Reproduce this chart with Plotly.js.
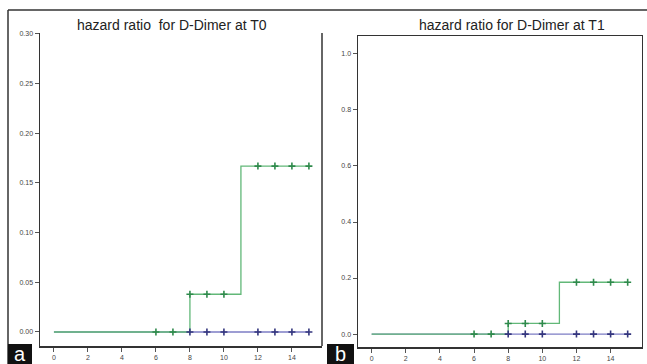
<!DOCTYPE html>
<html>
<head>
<meta charset="utf-8">
<script src="https://cdn.plot.ly/plotly-3.0.1.min.js"></script>
<style>html,body{margin:0;padding:0;background:#fff;}#chart{width:647px;height:364px;}</style>
</head>
<body>
<div id="chart"></div>
<script>
// ---- data ----
var stepTimes = [0, 8, 11, 15];
var t0GreenStep = [0, 0.038, 0.167, 0.167];
var t1GreenStep = [0, 0.038, 0.185, 0.185];
var blueLineX = [0, 15];
var blueLineY = [0, 0];
var greenCensorX = [6, 7, 8, 9, 10, 12, 13, 14, 15];
var t0GreenCensorY = [0, 0, 0.038, 0.038, 0.038, 0.167, 0.167, 0.167, 0.167];
var t1GreenCensorY = [0, 0, 0.038, 0.038, 0.038, 0.185, 0.185, 0.185, 0.185];
var blueCensorX = [8, 9, 10, 12, 13, 14, 15];
var blueCensorY = [0, 0, 0, 0, 0, 0, 0];
var xTicks = [0, 2, 4, 6, 8, 10, 12, 14];
var t0YTicks = [0, 0.05, 0.10, 0.15, 0.20, 0.25, 0.30];
var t1YTicks = [0, 0.2, 0.4, 0.6, 0.8, 1.0];
var titleT0 = "hazard ratio&nbsp; for D-Dimer at T0";
var titleT1 = "hazard ratio for D-Dimer at T1";

// ---- styles ----
var greenLine = '#62b878', greenMark = '#2f8a4c';
var blueLine = '#7d7dc4', blueMark = '#34367e';
var W = 647, H = 364;
function px(x){return x / W;}
function py(y){return 1 - y / H;}

function lineTrace(x, y, color, xa, ya){
  return {x:x, y:y, mode:'lines', line:{shape:'hv', color:color, width:1.3}, xaxis:xa, yaxis:ya, hoverinfo:'skip', showlegend:false};
}
function markTrace(x, y, color, xa, ya){
  return {x:x, y:y, mode:'markers', marker:{symbol:'cross-thin', size:5, color:color, line:{color:color, width:1.6}}, xaxis:xa, yaxis:ya, hoverinfo:'skip', showlegend:false};
}

var data = [
  lineTrace(blueLineX, blueLineY, blueLine, 'x', 'y'),
  lineTrace(stepTimes, t0GreenStep, greenLine, 'x', 'y'),
  markTrace(greenCensorX, t0GreenCensorY, greenMark, 'x', 'y'),
  markTrace(blueCensorX, blueCensorY, blueMark, 'x', 'y'),
  lineTrace(blueLineX, blueLineY, blueLine, 'x2', 'y2'),
  lineTrace(stepTimes, t1GreenStep, greenLine, 'x2', 'y2'),
  markTrace(greenCensorX, t1GreenCensorY, greenMark, 'x2', 'y2'),
  markTrace(blueCensorX, blueCensorY, blueMark, 'x2', 'y2')
];

var tickFont = {family:'Liberation Sans, Arial, sans-serif', size:7, color:'#444'};
function xAxis(domain, mirror){
  return {domain:domain, range:[-0.82, 15.77], tickvals:xTicks, ticktext:xTicks.map(String),
    showgrid:false, zeroline:false, showline:true, linecolor:'#333', linewidth:1.5, mirror:mirror,
    ticks:'outside', ticklen:4, tickcolor:'#555', tickfont:tickFont, fixedrange:true};
}
function yAxis(domain, range, ticks, fmt, mirror, anchor){
  return {domain:domain, range:range, tickvals:ticks, ticktext:ticks.map(function(v){return v.toFixed(fmt);}),
    showgrid:false, zeroline:false, showline:true, linecolor:'#333', linewidth:1.5, mirror:mirror, anchor:anchor,
    ticks:'outside', ticklen:4, tickcolor:'#555', tickfont:tickFont, fixedrange:true};
}

var titleFont = {family:'Liberation Sans, Arial, sans-serif', size:14, color:'#222'};
var layout = {
  width:W, height:H, margin:{l:0, r:0, t:0, b:0},
  paper_bgcolor:'#fff', plot_bgcolor:'#fff', showlegend:false,
  xaxis: Object.assign(xAxis([px(40), px(322)], false), {anchor:'y'}),
  yaxis: yAxis([py(346), py(33)], [-0.0141, 0.301], t0YTicks, 2, false, 'x'),
  xaxis2: Object.assign(xAxis([px(358), px(641.5)], true), {anchor:'y2', range:[-0.80, 15.81]}),
  yaxis2: yAxis([py(347), py(36)], [-0.0461, 1.0638], t1YTicks, 1, true, 'x2'),
  annotations:[
    {text:titleT0, xref:'paper', yref:'paper', x:px(172), y:py(25), xanchor:'center', yanchor:'middle', showarrow:false, font:titleFont},
    {text:titleT1, xref:'paper', yref:'paper', x:px(512), y:py(25), xanchor:'center', yanchor:'middle', showarrow:false, font:titleFont},
    {text:'a', xref:'paper', yref:'paper', x:px(20), y:py(354), xanchor:'center', yanchor:'middle', showarrow:false,
     font:{family:'Liberation Sans, Arial, sans-serif', size:20, color:'#fff'}},
    {text:'b', xref:'paper', yref:'paper', x:px(340.5), y:py(354), xanchor:'center', yanchor:'middle', showarrow:false,
     font:{family:'Liberation Sans, Arial, sans-serif', size:20, color:'#fff'}}
  ],
  shapes:[
    {type:'line', xref:'paper', yref:'paper', x0:px(8), x1:1, y0:py(10), y1:py(10), line:{color:'#333', width:1.5}},
    {type:'line', xref:'paper', yref:'paper', x0:px(8), x1:px(8), y0:py(10), y1:0, line:{color:'#333', width:1.5}},
    {type:'line', xref:'paper', yref:'paper', x0:px(322), x1:px(322), y0:py(33), y1:py(346), line:{color:'#333', width:1.5}},
    {type:'rect', xref:'paper', yref:'paper', x0:px(8), x1:px(32), y0:0, y1:py(344), fillcolor:'#111', line:{width:0}, layer:'above'},
    {type:'rect', xref:'paper', yref:'paper', x0:px(327), x1:px(354), y0:0, y1:py(344), fillcolor:'#111', line:{width:0}, layer:'above'}
  ]
};

Plotly.newPlot('chart', data, layout, {displayModeBar:false, staticPlot:true});
</script>
</body>
</html>
